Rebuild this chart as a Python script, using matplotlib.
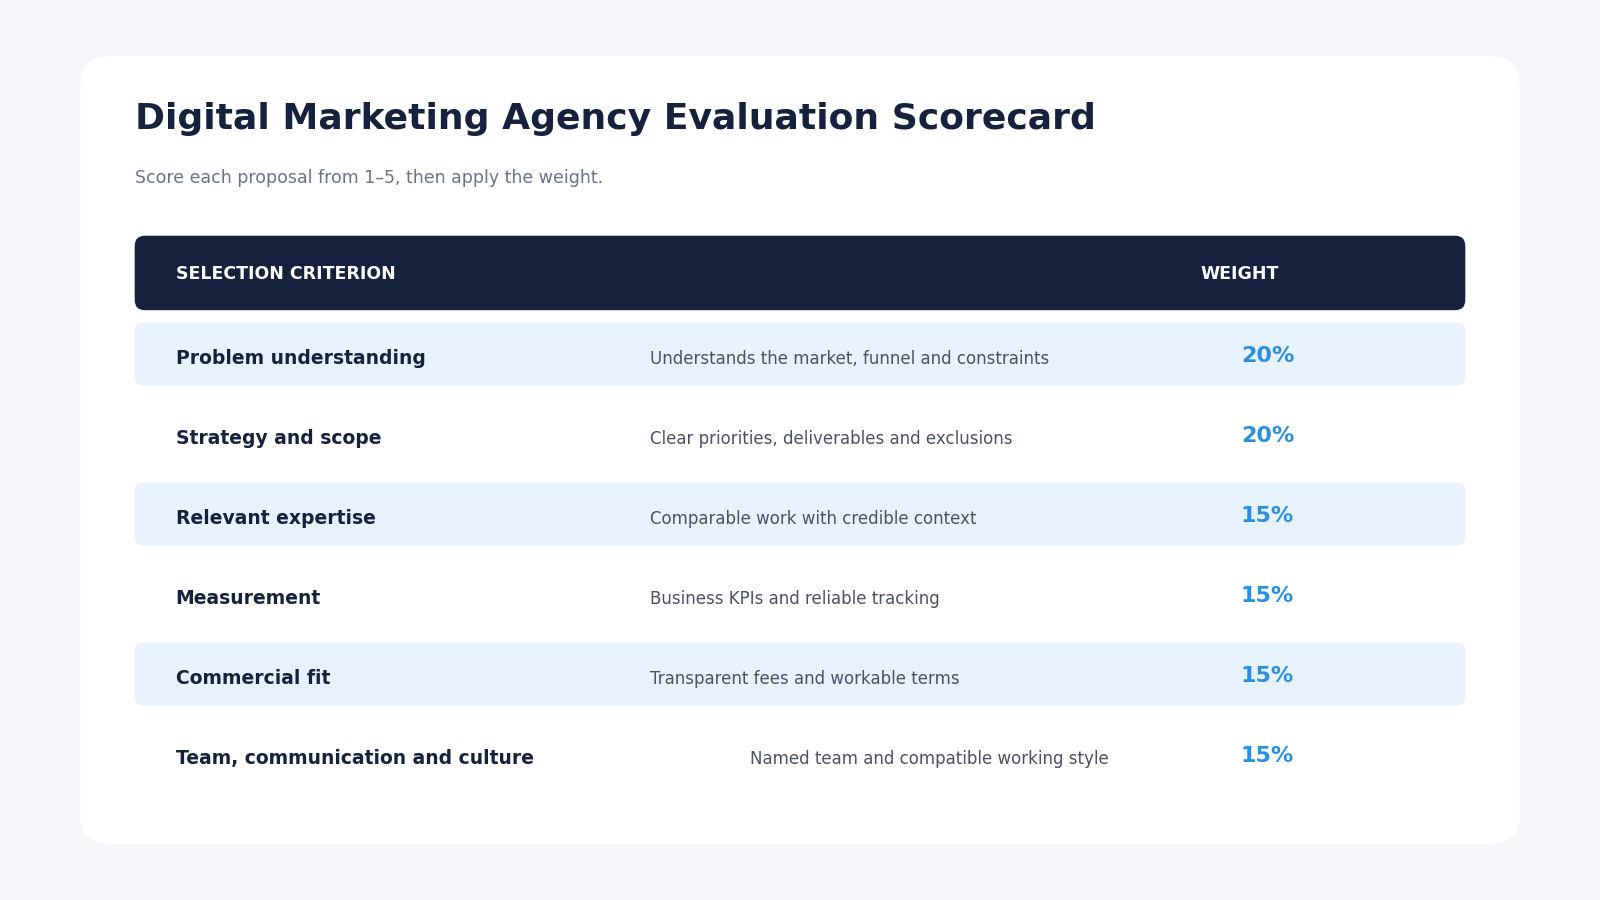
import matplotlib.pyplot as plt
from matplotlib.patches import FancyBboxPatch

plt.rcParams['font.family'] = ['DejaVu Sans']

title = "Digital Marketing Agency Evaluation Scorecard"
subtitle = "Score each proposal from 1\u20135, then apply the weight."
criteria = ["Problem understanding", "Strategy and scope", "Relevant expertise",
            "Measurement", "Commercial fit", "Team, communication and culture"]
descriptions = ["Understands the market, funnel and constraints",
                "Clear priorities, deliverables and exclusions",
                "Comparable work with credible context",
                "Business KPIs and reliable tracking",
                "Transparent fees and workable terms",
                "Named team and compatible working style"]
weights = [20, 20, 15, 15, 15, 15]

W, H = 1568, 882
fig = plt.figure(figsize=(16, 9), dpi=100)
fig.patch.set_facecolor("#f5f7fb")
ax = fig.add_axes([0, 0, 1, 1])
ax.set_xlim(0, W)
ax.set_ylim(H, 0)
ax.axis("off")

def rbox(x, y, w, h, r, color):
    ax.add_patch(FancyBboxPatch((x + r, y + r), w - 2 * r, h - 2 * r,
                                boxstyle=f"round,pad={r}", fc=color, ec="none"))

rbox(79, 55, 1410, 772, 28, "white")
ax.text(132, 117, title, fontsize=26, fontweight="bold", color="#16213e", va="center")
ax.text(132, 174, subtitle, fontsize=12.5, color="#6b7385", va="center")

rbox(132, 231, 1304, 73, 10, "#16213e")
ax.text(172, 269, "SELECTION CRITERION", fontsize=12.5, fontweight="bold", color="white", va="center")
ax.text(1176, 269, "WEIGHT", fontsize=12.5, fontweight="bold", color="white", va="center")

row_top, row_h = 316, 78.4
for i, (c, d, w) in enumerate(zip(criteria, descriptions, weights)):
    y0 = row_top + i * row_h
    yc = y0 + 33
    if i % 2 == 0:
        rbox(132, y0, 1304, 62, 8, "#e8f2fd")
    ax.text(172, yc + 2, c, fontsize=13.5, fontweight="bold", color="#16213e", va="center")
    dx = 735 if i == len(criteria) - 1 else 637
    ax.text(dx, yc + 3, d, fontsize=12, color="#4a5263", va="center")
    ax.text(1216, yc, f"{w}%", fontsize=16, fontweight="bold", color="#2b8fe0", va="center")

fig.savefig("out.png", dpi=100, facecolor=fig.get_facecolor())
